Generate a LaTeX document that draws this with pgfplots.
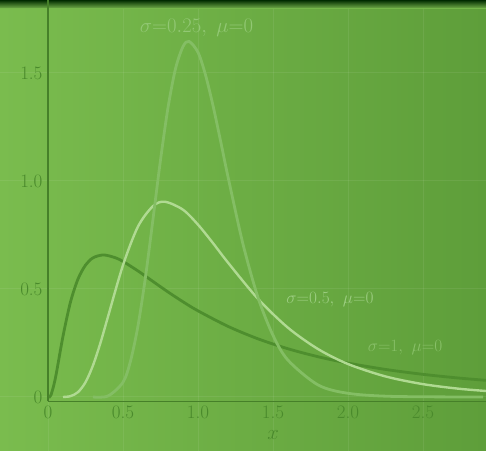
\documentclass[border=0pt]{standalone}
\usepackage{pgfplots}
\pgfplotsset{compat=1.18}
\definecolor{bgL}{HTML}{7ABC4E}
\definecolor{bgR}{HTML}{5E9E3A}
\definecolor{cOne}{HTML}{4E8E2E}
\definecolor{cHalf}{HTML}{B0DA92}
\definecolor{cQuart}{HTML}{84BE64}
\definecolor{tickc}{HTML}{4A8A2C}
\definecolor{labc}{HTML}{92C874}
\begin{document}
\begin{tikzpicture}
\begin{axis}[
  scale only axis,
  width=486pt, height=451pt,
  xmin=-0.32, xmax=2.92, ymin=-0.25, ymax=1.838,
  axis line style={draw=none},
  axis background/.style={shade, shading angle=60, left color=bgL, right color=bgR},
  xtick={0,0.5,1,1.5,2,2.5},
  xticklabels={0,0.5,1.0,1.5,2.0,2.5},
  ytick={0,0.5,1,1.5},
  yticklabels={0,0.5,1.0,1.5},
  major tick length=0pt,
  grid=major,
  major grid style={white, opacity=0.07, line width=1pt},
  xticklabel style={yshift=49pt, font=\fontsize{19}{19}\selectfont, text=tickc},
  yticklabel style={xshift=46pt, font=\fontsize{19}{19}\selectfont, text=tickc},
  xlabel={$x$},
  xlabel style={at={(axis description cs:0.562,0.035)}, anchor=center, font=\fontsize{21}{21}\selectfont, text=tickc},
  clip=true,
]
% top dark band
\fill[top color=black!70!green!60!black, bottom color=bgL, opacity=0.9] (axis cs:-0.32,1.80) rectangle (axis cs:2.92,1.838);
% axes lines
\draw[cOne!90!black, line width=2.5pt] (axis cs:0,-0.02) -- (axis cs:0,1.838);
\draw[cOne!90!black, line width=1.2pt] (axis cs:0,-0.02) -- (axis cs:2.92,-0.02);

\addplot[cOne, line width=2.8pt, smooth] coordinates {
(0.005,0.0000) (0.02,0.0095) (0.05,0.0898) (0.1,0.2816) (0.15,0.4399) (0.2,0.5463) (0.25,0.6105)
(0.3,0.6442) (0.37,0.6577) (0.45,0.6445) (0.5,0.6275) (0.6,0.5836) (0.7,0.5348)
(0.8,0.4864) (0.9,0.4408) (1.0,0.3989) (1.2,0.3270) (1.4,0.2693) (1.6,0.2233)
(1.8,0.1865) (2.0,0.1569) (2.25,0.1276) (2.5,0.1049) (2.75,0.0870) (3.0,0.0727)};

\addplot[cHalf, line width=2.4pt, smooth] coordinates {
(0.1,0.0000) (0.15,0.0040) (0.2,0.0225) (0.25,0.0683) (0.3,0.1465) (0.35,0.2515) (0.4,0.3720)
(0.5,0.6104) (0.6,0.7893) (0.7,0.8837) (0.78,0.9041) (0.9,0.8670) (1.0,0.7979)
(1.1,0.7123) (1.2,0.6222) (1.4,0.4545) (1.6,0.3206) (1.8,0.2221) (2.0,0.1526)
(2.25,0.0952) (2.5,0.0595) (2.75,0.0375) (3.0,0.0238)};

\addplot[cQuart, line width=2.8pt, smooth] coordinates {
(0.3,0.0000) (0.4,0.0048) (0.5,0.0683) (0.55,0.1663) (0.6,0.3299) (0.65,0.5561) (0.7,0.8239)
(0.75,1.0974) (0.8,1.3395) (0.85,1.5199) (0.9,1.6224) (0.94,1.6464) (1.0,1.5958)
(1.05,1.4911) (1.1,1.3490) (1.15,1.1868) (1.2,1.0193) (1.3,0.7077) (1.4,0.4607)
(1.5,0.2855) (1.6,0.1704) (1.8,0.0559) (2.0,0.0171) (2.3,0.0027) (2.9,0.0000)};

\node[text=labc, font=\fontsize{20}{20}\selectfont] at (axis cs:0.99,1.71) {$\sigma{=}0.25,\ \mu{=}0$};
\node[text=labc!90!white, font=\fontsize{19}{19}\selectfont] at (axis cs:1.88,0.45) {$\sigma{=}0.5,\ \mu{=}0$};
\node[text=labc!80!bgR, font=\fontsize{19}{19}\selectfont] at (axis cs:2.38,0.23) {$\sigma{=}1,\ \mu{=}0$};
\end{axis}
\pgfresetboundingbox
\useasboundingbox (current axis.south west) rectangle (current axis.north east);
\end{tikzpicture}
\end{document}
